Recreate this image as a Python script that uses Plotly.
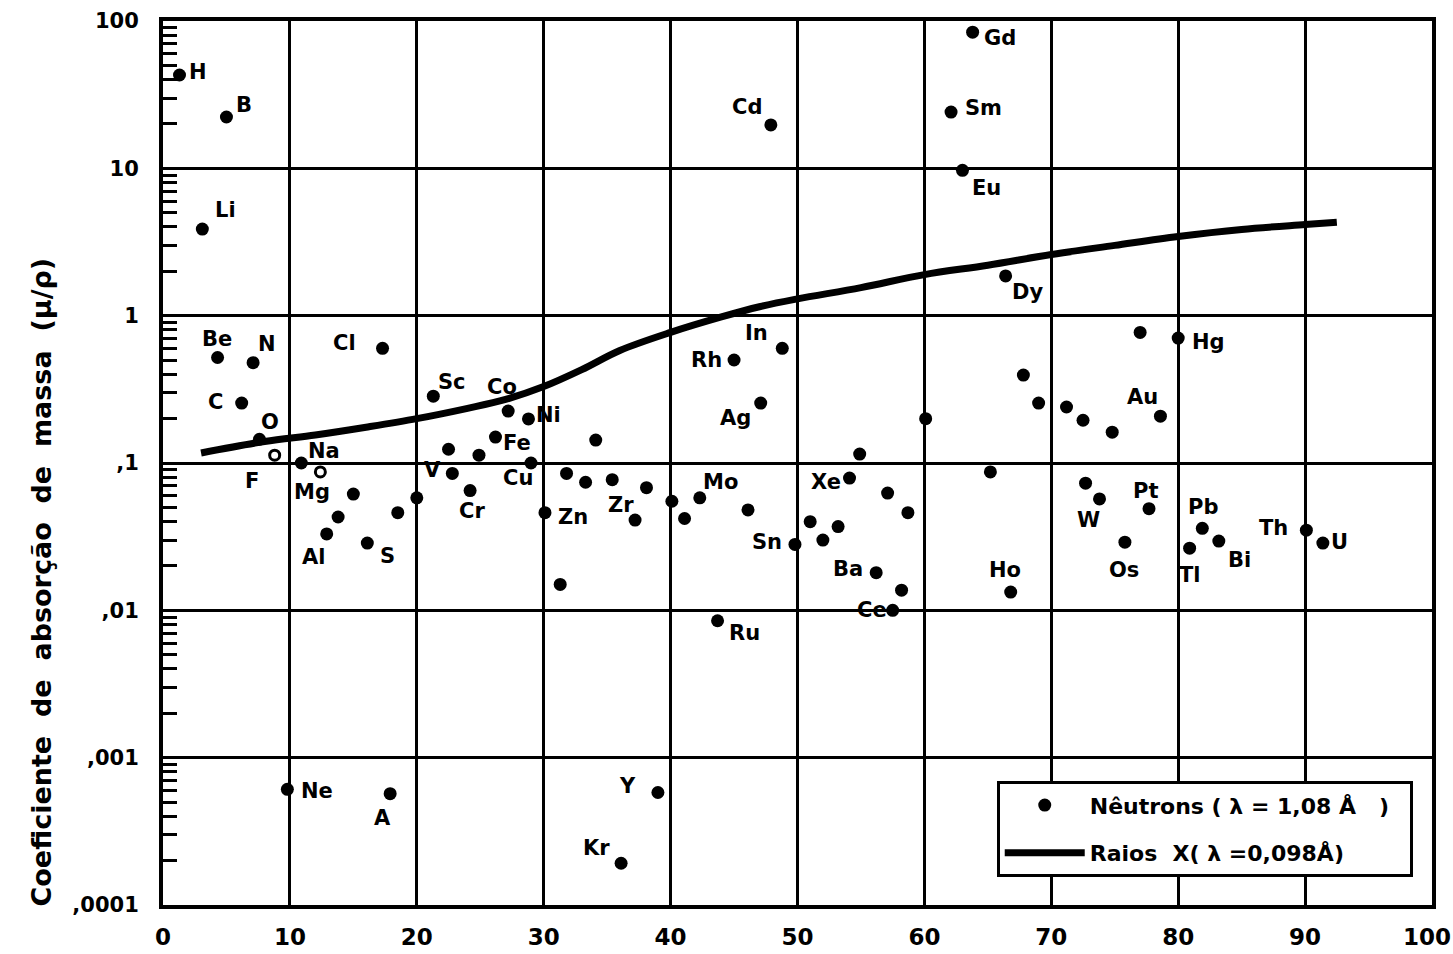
import math
import plotly.graph_objects as go

# --- data ---
elements = ["H", "B", "Li", "Be", "N", "C", "O", "F", "Na", "Mg", "Al", "Si", "P", "S", "Cl", "Ne", "A",
            "K", "Ca", "Sc", "Ti", "V", "Cr", "Mn", "Fe", "Co", "Ni", "Cu", "Zn", "Ga", "Ge", "As", "Se",
            "Br", "Kr", "Rb", "Sr", "Y", "Zr", "Nb", "Mo", "Ru", "Rh", "Pd", "Ag", "Cd", "In", "Sn",
            "Sb", "Te", "I", "Xe", "Cs", "Ba", "La", "Ce", "Pr", "Nd", "Pm", "Sm", "Eu", "Gd", "Tb",
            "Dy", "Ho", "Er", "Tm", "Yb", "Hf", "Ta", "W", "Re", "Os", "Ir", "Pt", "Au", "Hg", "Tl",
            "Pb", "Bi", "Th", "U"]
z_pos = [1.3, 5.0, 3.1, 4.3, 7.1, 6.2, 7.6, 8.8, 10.9, 12.4, 12.9, 13.8, 15.0, 16.1, 17.3, 9.8, 17.9,
         18.5, 20.0, 21.3, 22.5, 22.8, 24.2, 24.9, 26.2, 27.2, 28.8, 29.0, 30.1, 31.3, 31.8, 33.3, 34.1,
         35.4, 36.1, 37.2, 38.1, 39.0, 40.1, 41.1, 42.3, 43.7, 45.0, 46.1, 47.1, 47.9, 48.8, 49.8,
         51.0, 52.0, 53.2, 54.1, 54.9, 56.2, 57.1, 57.5, 58.2, 58.7, 60.1, 62.1, 63.0, 63.8, 65.2,
         66.4, 66.8, 67.8, 69.0, 71.2, 72.5, 72.7, 73.8, 74.8, 75.8, 77.0, 77.7, 78.6, 80.0, 80.9,
         81.9, 83.2, 90.1, 91.4]
mu_neutron = [43, 22.3, 3.87, 0.52, 0.48, 0.255, 0.145, 0.113, 0.100, 0.087, 0.033, 0.043, 0.0615, 0.0286,
              0.60, 0.00061, 0.00057,
              0.046, 0.058, 0.284, 0.124, 0.085, 0.065, 0.113, 0.150, 0.225, 0.199, 0.100, 0.046, 0.015,
              0.085, 0.074, 0.143, 0.077, 0.000192, 0.041, 0.068, 0.00058, 0.055, 0.042, 0.058, 0.0085,
              0.50, 0.048, 0.255, 19.7, 0.60, 0.028,
              0.040, 0.030, 0.037, 0.079, 0.115, 0.018, 0.0625, 0.0100, 0.0137, 0.046, 0.20, 24.1, 9.7,
              84, 0.087, 1.86, 0.0133, 0.395, 0.255, 0.24, 0.195, 0.073, 0.057, 0.162, 0.029, 0.77,
              0.049, 0.208, 0.705, 0.0264, 0.036, 0.0295, 0.035, 0.0286]
open_marks = ["F", "Mg"]

xray_z = [3, 8, 12, 16, 20, 24, 27, 30, 33, 36, 40, 44, 47, 50, 55, 60, 65, 70, 75, 80, 85, 90, 92.5]
xray_mu = [0.117, 0.14, 0.155, 0.175, 0.20, 0.235, 0.27, 0.33, 0.43, 0.58, 0.77, 0.98, 1.15, 1.3,
           1.55, 1.9, 2.2, 2.6, 3.0, 3.45, 3.85, 4.15, 4.3]

y_tickvals = [1e-4, 1e-3, 1e-2, 1e-1, 1, 10, 100]
y_ticktext = [",0001", ",001", ",01", ",1", "1", "10", "100"]
x_tickvals = [0, 10, 20, 30, 40, 50, 60, 70, 80, 90, 100]
x_ticktext = ["0", "10", "20", "30", "40", "50", "60", "70", "80", "90", "100"]

labeled = {  # element: label offset in pixels (dx, dy up)
    "H": (18, 3), "B": (18, 12), "Li": (23, 19), "Be": (-1, 19), "N": (14, 19), "C": (-26, 1),
    "O": (11, 17), "F": (-23, -26), "Na": (23, 12), "Mg": (-8, -20), "Al": (-13, -23), "S": (20, -13),
    "Cl": (-38, 5), "Ne": (30, -2), "A": (-8, -24), "Sc": (19, 14), "V": (-20, 3), "Cr": (2, -20),
    "Co": (-6, 24), "Fe": (22, -6), "Ni": (20, 4), "Cu": (-13, -15), "Zn": (28, -4), "Mo": (21, 16),
    "Ru": (27, -12), "Rh": (-28, 0), "In": (-26, 15), "Ag": (-25, -15), "Cd": (-24, 18),
    "Sn": (-28, 2), "Xe": (-24, -4), "Ba": (-28, 4), "Ce": (-21, 0), "Kr": (-25, 15), "Y": (-30, 7),
    "Gd": (27, -6), "Sm": (32, 4), "Eu": (24, -18), "Dy": (22, -16), "Ho": (-6, 22), "W": (-11, -21),
    "Os": (-1, -28), "Pt": (-4, 18), "Au": (-18, 19), "Hg": (30, -4), "Tl": (0, -27), "Pb": (1, 21),
    "Bi": (21, -19), "Th": (-33, 2), "U": (17, 1),
}
# "Zr" label sits by the Rb dot in the original
extra_labels = {"Zr": ("Rb", -14, 15)}

FONT = "DejaVu Sans"
LABEL_FONT = dict(family=FONT, size=21, color="black", weight="bold")
XTICK_FONT = dict(family=FONT, size=23, color="black", weight="bold")

fig = go.Figure()
solid = [i for i, e in enumerate(elements) if e not in open_marks]
hollow = [i for i, e in enumerate(elements) if e in open_marks]

fig.add_trace(go.Scatter(
    x=[z_pos[i] for i in solid], y=[mu_neutron[i] for i in solid],
    mode="markers", marker=dict(color="black", size=13),
    name="Nêutrons ( λ = 1,08 Å\u00a0\u00a0 )\u00a0\u00a0", legendgroup="n",
    text=[elements[i] for i in solid]))
fig.add_trace(go.Scatter(
    x=[z_pos[i] for i in hollow], y=[mu_neutron[i] for i in hollow],
    mode="markers", marker=dict(color="white", size=10, symbol="circle",
                                line=dict(color="black", width=3)),
    showlegend=False, legendgroup="n", text=[elements[i] for i in hollow]))
fig.add_trace(go.Scatter(
    x=xray_z, y=xray_mu, mode="lines", line=dict(color="black", width=7, shape="spline"),
    name="Raios\u00a0 X( λ =0,098Å)", legendgroup="x"))

annotations = []
for e, (dx, dy) in labeled.items():
    i = elements.index(e)
    annotations.append(dict(x=z_pos[i], y=math.log10(mu_neutron[i]), text=e, showarrow=False,
                            xshift=dx, yshift=dy, font=LABEL_FONT))
for lab, (e, dx, dy) in extra_labels.items():
    i = elements.index(e)
    annotations.append(dict(x=z_pos[i], y=math.log10(mu_neutron[i]), text=lab, showarrow=False,
                            xshift=dx, yshift=dy, font=LABEL_FONT))

# the last x tick label sits at the right edge of the window; draw it right-aligned so it stays whole
annotations.append(dict(x=x_tickvals[-1], xref="x", yref="paper", y=0, text=x_ticktext[-1],
                        showarrow=False, xanchor="right", yanchor="middle", xshift=21, yshift=-32,
                        font=XTICK_FONT))
x_ticktext_axis = x_ticktext[:-1] + [""]

sp = "\u00a0\u00a0"
annotations.append(dict(
    xref="paper", yref="paper", x=-0.096, y=0.365, textangle=-90, showarrow=False,
    xanchor="center", yanchor="middle",
    text=f"Coeficiente{sp}de{sp}absorção{sp}de{sp}massa{sp}(μ/ρ)",
    font=dict(family=FONT, size=27, color="black", weight="bold")))

fig.update_layout(
    width=1453, height=954,
    margin=dict(l=163, r=21, t=21, b=49, autoexpand=False),
    plot_bgcolor="white", paper_bgcolor="white",
    showlegend=True,
    legend=dict(x=0.657, y=0.14, xanchor="left", yanchor="top",
                bordercolor="black", borderwidth=3, bgcolor="white",
                font=dict(family=FONT, size=22, color="black", weight="bold"),
                itemwidth=80, tracegroupgap=16),
    annotations=annotations,
    font=dict(family=FONT, color="black"),
)
fig.update_xaxes(range=[0, 100], tickvals=x_tickvals, ticktext=x_ticktext_axis, automargin=False,
                 showgrid=True, gridcolor="black", gridwidth=3, zeroline=False,
                 showline=True, linecolor="black", linewidth=4, mirror=True, ticks="",
                 ticklabelstandoff=8,
                 tickfont=XTICK_FONT)
fig.update_yaxes(type="log", range=[-4, 2], tickvals=y_tickvals, ticktext=y_ticktext, automargin=False,
                 showgrid=True, gridcolor="black", gridwidth=3, zeroline=False,
                 showline=True, linecolor="black", linewidth=4, mirror=True,
                 ticks="inside", ticklen=1, tickwidth=1, tickcolor="black",
                 ticklabelstandoff=16,
                 minor=dict(tickmode="array",
                            tickvals=[m * 10 ** k for k in range(-4, 2) for m in range(2, 10)],
                            ticks="inside", ticklen=14, tickwidth=3, tickcolor="black",
                            showgrid=False),
                 tickfont=dict(family=FONT, size=21, color="black", weight="bold"))

# remove the page's default body margin so the 1453x954 figure fills the window exactly
fig.write_html("out.html", config={"displayModeBar": False},
               post_script="document.body.style.margin='0';document.body.style.overflow='hidden';")
